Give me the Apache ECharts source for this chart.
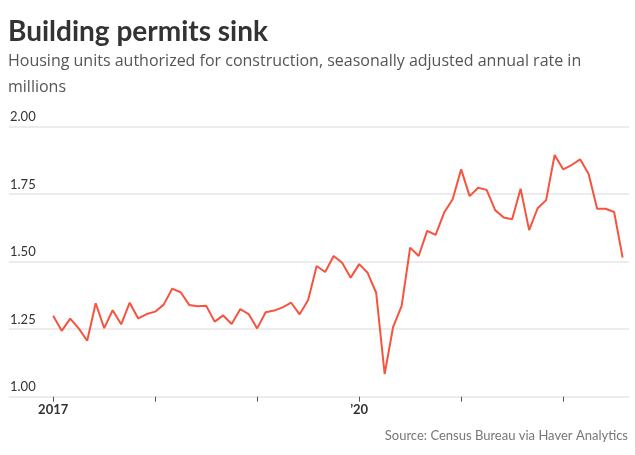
<!DOCTYPE html>
<html><head><meta charset="utf-8">
<script src="https://cdn.jsdelivr.net/npm/echarts@6/dist/echarts.min.js"></script>
<style>html,body{margin:0;padding:0;background:#fff}#c{width:635px;height:455px}</style>
</head><body><div id="c"></div>
<script>
// Monthly, Jan 2017 .. Aug 2022 (index 0 = Jan 2017)
const values2017 = [1.30,1.244,1.289,1.253,1.207,1.346,1.254,1.32,1.268,1.348,1.29,1.306];
const values2018 = [1.315,1.341,1.40,1.387,1.34,1.335,1.337,1.278,1.301,1.269,1.324,1.306];
const values2019 = [1.253,1.313,1.319,1.331,1.348,1.305,1.358,1.484,1.462,1.521,1.496,1.441];
const values2020 = [1.491,1.459,1.385,1.084,1.259,1.336,1.552,1.521,1.614,1.599,1.682,1.731];
const values2021 = [1.842,1.743,1.774,1.766,1.691,1.664,1.657,1.77,1.617,1.698,1.728,1.895];
const values2022 = [1.842,1.858,1.879,1.825,1.696,1.696,1.684,1.515];
const yTicks = [1.00,1.25,1.50,1.75,2.00];
const xTickMonths = [0,12,24,36,48,60];
const xLabels = {0:'2017',36:'\u201920'};

const values = [].concat(values2017,values2018,values2019,values2020,values2021,values2022);
const data = values.map((v,i)=>[i,v]);

const chart = echarts.init(document.getElementById('c'));
chart.setOption({
  animation:false,
  graphic:[
    {type:'text',left:8,top:18,style:{text:'Building permits sink',font:'bold 28px Lato, "Open Sans", sans-serif',fill:'#333'}},
    {type:'text',left:8,top:53,style:{text:'Housing units authorized for construction, seasonally adjusted annual rate in',font:'16px "Open Sans", Lato, sans-serif',fill:'#555'}},
    {type:'text',left:8,top:79,style:{text:'millions',font:'16px "Open Sans", Lato, sans-serif',fill:'#555'}},
    {type:'text',right:7,top:429,style:{text:'Source: Census Bureau via Haver Analytics',font:'13px Lato, "Open Sans", sans-serif',fill:'#777',align:'right'}}
  ],
  grid:{left:9,right:6,top:126.7,bottom:58.3},
  xAxis:{
    type:'value',min:-5.2,max:67.75,
    axisLine:{show:false},
    splitLine:{show:false},
    axisTick:{show:true,customValues:xTickMonths,length:5,lineStyle:{color:'#555',width:1}},
    axisLabel:{customValues:[0,36],formatter:v=>xLabels[v]||'',color:'#333',fontWeight:'bold',fontSize:13,fontFamily:'Lato',margin:7}
  },
  yAxis:{
    type:'value',min:1,max:2,interval:0.25,
    axisLine:{show:false},axisTick:{show:false},
    splitLine:{lineStyle:{color:'#e6e6e6',width:1.5}},
    axisLabel:{inside:true,verticalAlign:'bottom',margin:1,padding:[0,0,3,0],formatter:v=>v.toFixed(2),color:'#333',fontSize:13,fontFamily:'Lato'}
  },
  series:[{type:'line',data:data,showSymbol:false,lineStyle:{color:'#f7533f',width:2},itemStyle:{color:'#f7533f'}}]
});
</script></body></html>
